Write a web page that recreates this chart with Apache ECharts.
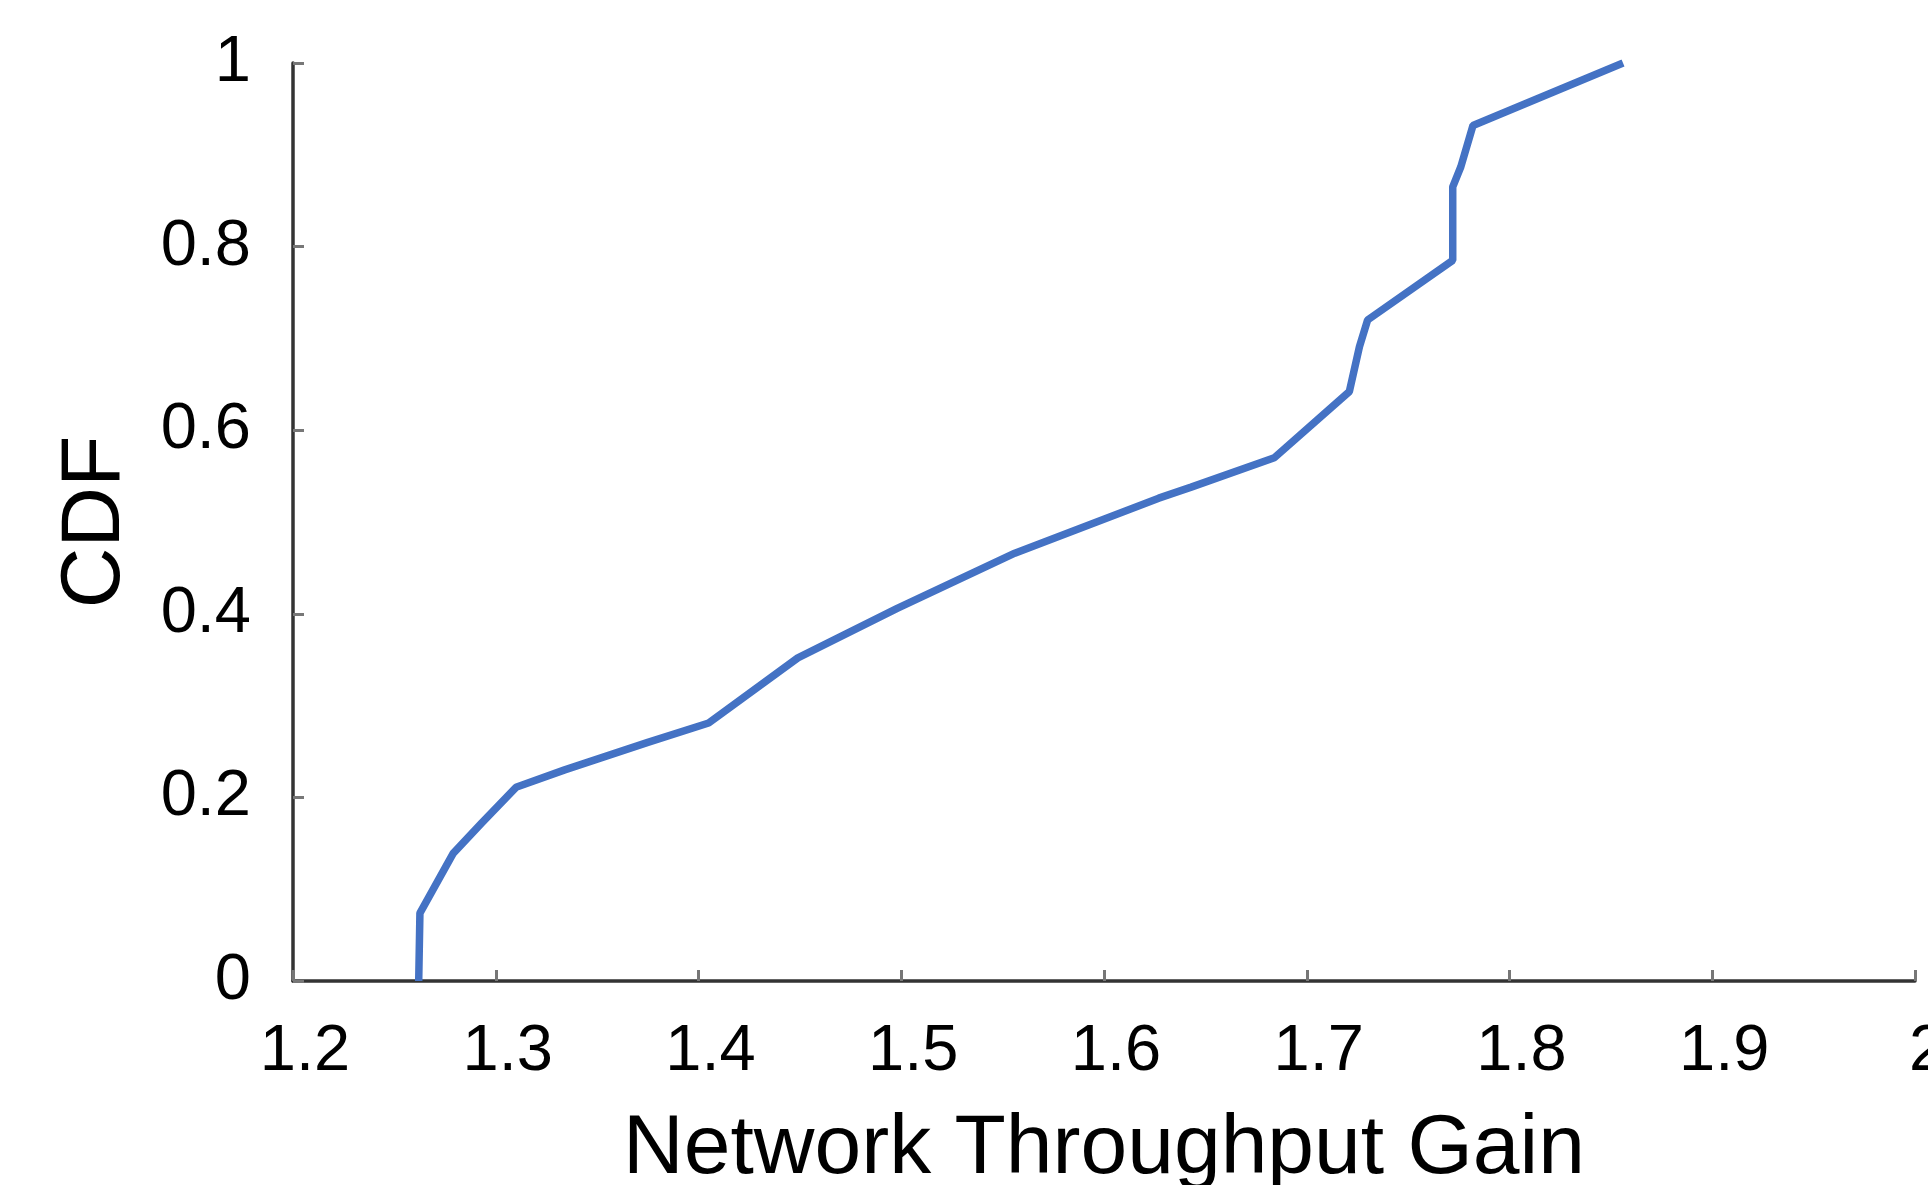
<!DOCTYPE html>
<html>
<head>
<meta charset="utf-8">
<script src="https://cdn.jsdelivr.net/npm/echarts@6/dist/echarts.min.js"></script>
<style>
html,body{margin:0;padding:0;background:#fff;overflow:hidden;}
#chart{width:1928px;height:1185px;}
</style>
</head>
<body>
<div id="chart"></div>
<script>
const gainValues = [1.262, 1.2626, 1.279, 1.293, 1.310, 1.334, 1.375, 1.405, 1.449, 1.498, 1.556, 1.627, 1.643, 1.684, 1.721, 1.726, 1.730, 1.772, 1.772, 1.776, 1.782, 1.856];
const cdfValues  = [0, 0.074, 0.139, 0.172, 0.211, 0.230, 0.260, 0.281, 0.352, 0.406, 0.466, 0.526, 0.538, 0.570, 0.642, 0.691, 0.720, 0.785, 0.865, 0.887, 0.932, 1.0];
const xAxisTitle = 'Network Throughput Gain';
const yAxisTitle = 'CDF';

const chart = echarts.init(document.getElementById('chart'));
const font = 'Liberation Sans';
chart.setOption({
  animation: false,
  grid: {left: 293, right: 13, top: 63, bottom: 204, containLabel: false, outerBoundsMode: 'none'},
  xAxis: {
    type: 'value', min: 1.2, max: 2, interval: 0.1,
    name: xAxisTitle, nameLocation: 'middle', nameGap: 127,
    nameTextStyle: {fontSize: 84, fontFamily: font, color: '#000'},
    axisLine: {show: true, onZero: false, lineStyle: {color: '#333', width: 3.5}},
    axisTick: {show: true, inside: true, length: 11, lineStyle: {color: '#777', width: 3}},
    axisLabel: {fontSize: 65, fontFamily: font, color: '#000', margin: 39, padding: [0, 0, 0, 24],
      hideOverlap: false,
      formatter: v => String(Math.round(v * 10) / 10)},
    splitLine: {show: false}
  },
  yAxis: {
    type: 'value', min: 0, max: 1, interval: 0.2,
    name: yAxisTitle, nameLocation: 'middle', nameGap: 155, nameRotate: 90,
    nameTextStyle: {fontSize: 84, fontFamily: font, color: '#000'},
    axisLine: {show: true, lineStyle: {color: '#333', width: 3.5}},
    axisTick: {show: true, inside: true, length: 11, lineStyle: {color: '#777', width: 3}},
    axisLabel: {fontSize: 65, fontFamily: font, color: '#000', margin: 42,
      formatter: v => String(Math.round(v * 10) / 10)},
    splitLine: {show: false}
  },
  series: [{
    type: 'line',
    data: gainValues.map((g, i) => [g, cdfValues[i]]),
    showSymbol: false,
    lineStyle: {color: '#4472C4', width: 7.5},
    itemStyle: {color: '#4472C4'}
  }]
});
</script>
</body>
</html>
